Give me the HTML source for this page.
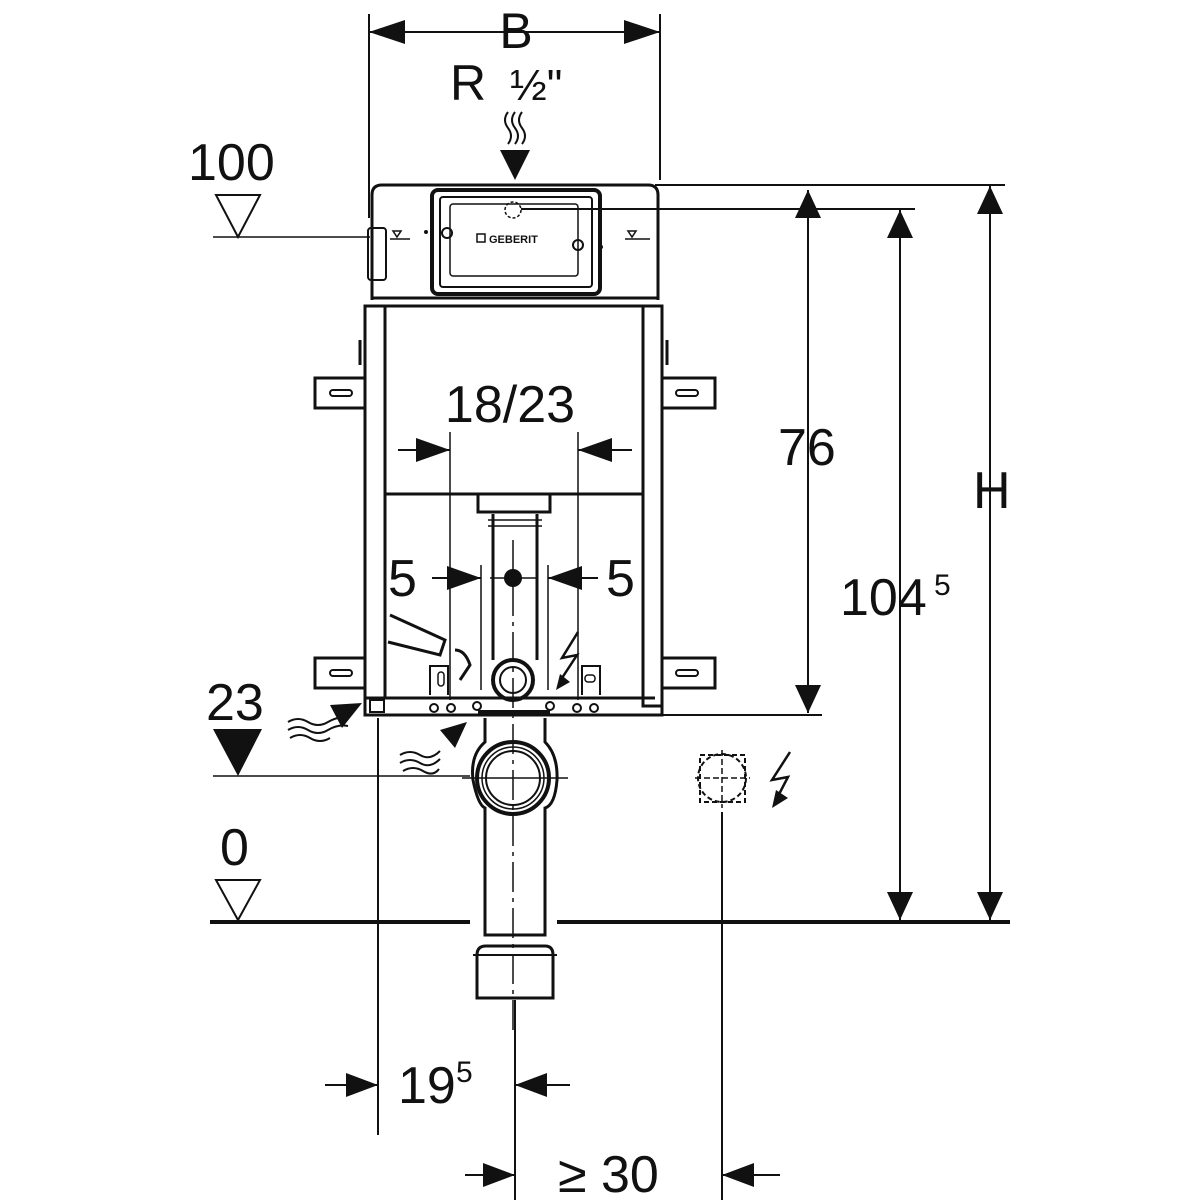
<!DOCTYPE html>
<html><head><meta charset="utf-8"><style>
html,body{margin:0;padding:0;background:#fff;}
svg{display:block;}
text{font-family:"Liberation Sans",sans-serif;fill:#111;}
</style></head><body>
<svg width="1200" height="1200" viewBox="0 0 1200 1200" xmlns="http://www.w3.org/2000/svg">
<g stroke="#111" fill="none" stroke-width="2">
<line x1="369" y1="14" x2="369" y2="218"/>
<line x1="660" y1="14" x2="660" y2="180"/>
<line x1="369" y1="32" x2="660" y2="32"/>
</g>
<g fill="#111">
<polygon points="369,32 405,20 405,44"/>
<polygon points="660,32 624,20 624,44"/>
</g>
<text x="516" y="48" font-size="50" text-anchor="middle">B</text>
<text x="450" y="100" font-size="50">R</text>
<text x="510" y="100" font-size="44">½"</text>
<g stroke="#111" fill="none" stroke-width="2">
<path d="M508,112 q-6,8 0,16 q6,8 0,16"/>
<path d="M515,112 q-6,8 0,16 q6,8 0,16"/>
<path d="M522,112 q-6,8 0,16 q6,8 0,16"/>
</g>
<polygon points="500,150 530,150 515,180" fill="#111"/>

<g stroke="#111" fill="none">
<path d="M372,300 L372,195 Q372,185 382,185 L648,185 Q658,185 658,195 L658,300" stroke-width="3"/>
<line x1="372" y1="298" x2="658" y2="298" stroke-width="3"/>
<rect x="432" y="190" width="168" height="104" rx="6" stroke-width="4"/>
<rect x="440" y="197" width="152" height="90" rx="3" stroke-width="2"/>
<rect x="450" y="204" width="128" height="72" rx="3" stroke-width="1.5"/>
<circle cx="513" cy="210" r="8" stroke-dasharray="3,2" stroke-width="1.5"/>
<line x1="521" y1="209" x2="915" y2="209" stroke-width="2"/>
<circle cx="447" cy="233" r="5" stroke-width="2"/>
<circle cx="578" cy="245" r="5" stroke-width="2"/>
<rect x="368" y="228" width="18" height="52" rx="3" stroke-width="2"/>
<line x1="213" y1="237" x2="370" y2="237" stroke-width="1.5"/>
<line x1="390" y1="239" x2="410" y2="239" stroke-width="1.5"/>
<line x1="625" y1="239" x2="650" y2="239" stroke-width="1.5"/>
<polygon points="393,231 401,231 397,237" stroke-width="1.5"/>
<polygon points="628,231 636,231 632,237" stroke-width="1.5"/>
</g>
<g fill="#111">
<rect x="477" y="234" width="8" height="8" fill="none" stroke="#111" stroke-width="1.5"/>
<text x="489" y="243" font-size="11" font-weight="bold">GEBERIT</text>
<circle cx="426" cy="232" r="2"/><circle cx="601" cy="247" r="2"/>
</g>

<g stroke="#111" fill="none">
<rect x="365" y="306" width="20" height="392" stroke-width="3"/>
<rect x="643" y="306" width="19" height="400" stroke-width="3"/>
<line x1="385" y1="306" x2="643" y2="306" stroke-width="3"/>
<path d="M365,698 L365,715 L662,715 L662,706" stroke-width="3"/>
<line x1="385" y1="698" x2="655" y2="698" stroke-width="3"/>
<line x1="385" y1="494" x2="643" y2="494" stroke-width="3"/>
<path d="M365,378 L315,378 L315,408 L365,408" stroke-width="3"/>
<path d="M662,378 L715,378 L715,408 L662,408" stroke-width="3"/>
<path d="M365,658 L315,658 L315,688 L365,688" stroke-width="3"/>
<path d="M662,658 L715,658 L715,688 L662,688" stroke-width="3"/>
<rect x="330" y="390" width="22" height="6" rx="3" stroke-width="2"/>
<rect x="676" y="390" width="22" height="6" rx="3" stroke-width="2"/>
<rect x="330" y="670" width="22" height="6" rx="3" stroke-width="2"/>
<rect x="676" y="670" width="22" height="6" rx="3" stroke-width="2"/>
<line x1="360" y1="340" x2="360" y2="365" stroke-width="3"/>
<line x1="667" y1="340" x2="667" y2="365" stroke-width="3"/>
<path d="M478,494 L478,512 L550,512 L550,494" stroke-width="3"/>
<path d="M493,514 L493,660 M537,514 L537,660" stroke-width="3"/>
<line x1="488" y1="520" x2="542" y2="520" stroke-width="1.5"/>
<line x1="488" y1="526" x2="542" y2="526" stroke-width="1.5"/>
<circle cx="513" cy="680" r="20" stroke-width="4"/>
<circle cx="513" cy="680" r="13" stroke-width="2"/>
<path d="M390,615 L445,640 L440,655 L388,642" stroke-width="3"/>
<path d="M455,650 q10,0 15,15 l-10,15" stroke-width="3"/>
<path d="M430,695 L430,666 L448,666 L448,695" stroke-width="2"/>
<path d="M600,695 L600,666 L582,666 L582,695" stroke-width="2"/>
<rect x="438" y="672" width="6" height="14" rx="3" stroke-width="1.5"/>
<rect x="585" y="675" width="10" height="7" rx="3" stroke-width="1.5"/>
<g stroke-width="2">
<circle cx="434" cy="708" r="4"/><circle cx="451" cy="708" r="4"/>
<circle cx="477" cy="706" r="4"/><circle cx="550" cy="706" r="4"/>
<circle cx="577" cy="708" r="4"/><circle cx="594" cy="708" r="4"/>
</g>
<rect x="370" y="700" width="14" height="12" stroke-width="2"/>
<line x1="450" y1="432" x2="450" y2="700" stroke-width="1.5"/>
<line x1="578" y1="432" x2="578" y2="700" stroke-width="1.5"/>
<line x1="481" y1="565" x2="481" y2="690" stroke-width="1.5"/>
<line x1="548" y1="565" x2="548" y2="690" stroke-width="1.5"/>
<line x1="513" y1="540" x2="513" y2="1030" stroke-width="1.5" stroke-dasharray="30,6,4,6"/>
<line x1="490" y1="578" x2="538" y2="578" stroke-width="1.5"/>
<path d="M485,718 L485,742 Q470,755 473,780 Q478,805 485,808 L485,935 L545,935 L545,808 Q555,805 557,780 Q558,755 545,742 L545,718" stroke-width="3"/>
<circle cx="513" cy="778" r="36" stroke-width="4"/>
<circle cx="513" cy="778" r="31" stroke-width="1.5"/>
<circle cx="513" cy="778" r="27" stroke-width="2"/>
<line x1="462" y1="778" x2="568" y2="778" stroke-width="1.5"/>
<line x1="478" y1="712" x2="550" y2="712" stroke-width="4"/>
<path d="M477,998 L477,955 Q477,946 486,946 L545,946 Q553,946 553,955 L553,998 Z" stroke-width="3"/>
<line x1="473" y1="955" x2="557" y2="955" stroke-width="2"/>
<line x1="655" y1="185" x2="1005" y2="185" stroke-width="2"/>
<line x1="662" y1="715" x2="822" y2="715" stroke-width="2"/>
<line x1="808" y1="190" x2="808" y2="713" stroke-width="2"/>
<line x1="900" y1="210" x2="900" y2="920" stroke-width="2"/>
<line x1="990" y1="186" x2="990" y2="920" stroke-width="2"/>
<line x1="398" y1="450" x2="450" y2="450" stroke-width="2"/>
<line x1="578" y1="450" x2="632" y2="450" stroke-width="2"/>
<line x1="432" y1="578" x2="481" y2="578" stroke-width="2"/>
<line x1="548" y1="578" x2="598" y2="578" stroke-width="2"/>
<line x1="213" y1="776" x2="470" y2="776" stroke-width="1.5"/>
<line x1="210" y1="922" x2="470" y2="922" stroke-width="4"/>
<line x1="557" y1="922" x2="1010" y2="922" stroke-width="4"/>
<polygon points="216,195 260,195 238,237" stroke-width="2"/>
<polygon points="216,880 260,880 238,920" stroke-width="2"/>
<line x1="378" y1="718" x2="378" y2="1135" stroke-width="2"/>
<line x1="515" y1="1000" x2="515" y2="1200" stroke-width="2"/>
<line x1="722" y1="812" x2="722" y2="1200" stroke-width="2"/>
<line x1="325" y1="1085" x2="378" y2="1085" stroke-width="2"/>
<line x1="515" y1="1085" x2="570" y2="1085" stroke-width="2"/>
<line x1="465" y1="1175" x2="515" y2="1175" stroke-width="2"/>
<line x1="722" y1="1175" x2="780" y2="1175" stroke-width="2"/>
<circle cx="722" cy="778" r="24" stroke-width="2" stroke-dasharray="5,3"/>
<rect x="700" y="755" width="45" height="47" stroke-width="2" stroke-dasharray="5,3"/>
<line x1="722" y1="750" x2="722" y2="808" stroke-width="1.5" stroke-dasharray="6,3"/>
<line x1="695" y1="778" x2="750" y2="778" stroke-width="1.5" stroke-dasharray="6,3"/>
<path d="M790,752 L772,780 L788,777 L776,800" stroke-width="2.5"/>
<path d="M578,632 L562,658 L577,655 L562,678" stroke-width="2.5"/>
<path d="M288,722 q10,-6 20,0 t20,0 t20,-4" stroke-width="2"/>
<path d="M288,730 q10,-6 20,0 t20,0 t20,-4" stroke-width="2"/>
<path d="M290,738 q10,-6 20,0 t20,0" stroke-width="2"/>
<path d="M400,755 q10,-6 20,0 t20,-4" stroke-width="2"/>
<path d="M400,763 q10,-6 20,0 t20,-4" stroke-width="2"/>
<path d="M403,771 q10,-6 20,0 t16,-2" stroke-width="2"/>
</g>
<g fill="#111">
<polygon points="808,190 795,218 821,218"/>
<polygon points="808,713 795,685 821,685"/>
<polygon points="900,210 887,238 913,238"/>
<polygon points="900,920 887,892 913,892"/>
<polygon points="990,186 977,214 1003,214"/>
<polygon points="990,920 977,892 1003,892"/>
<polygon points="450,450 416,438 416,462"/>
<polygon points="578,450 612,438 612,462"/>
<polygon points="481,578 447,566 447,590"/>
<polygon points="548,578 582,566 582,590"/>
<polygon points="378,1085 346,1073 346,1097"/>
<polygon points="515,1085 547,1073 547,1097"/>
<polygon points="515,1175 483,1163 483,1187"/>
<polygon points="722,1175 754,1163 754,1187"/>
<polygon points="213,729 262,729 238,776"/>
<polygon points="362,703 330,705 342,728"/>
<polygon points="467,722 440,730 455,748"/>
<polygon points="772,808 776,790 788,798"/>
<polygon points="556,690 560,674 570,682"/>
<circle cx="513" cy="578" r="9"/>
</g>
<g font-size="52">
<text x="510" y="422" text-anchor="middle">18/23</text>
<text x="388" y="596">5</text>
<text x="606" y="596">5</text>
<text x="778" y="465">76</text>
<text x="840" y="615">104</text><text x="934" y="595" font-size="30">5</text>
<text x="973" y="508">H</text>
<text x="188" y="180">100</text>
<text x="206" y="720">23</text>
<text x="220" y="865">0</text>
<text x="398" y="1103">19</text><text x="456" y="1082" font-size="30">5</text>
<text x="558" y="1192">≥ 30</text>
</g>
</svg>
</body></html>
